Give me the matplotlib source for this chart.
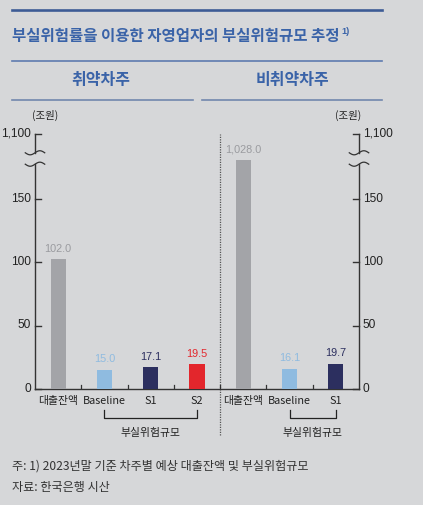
import numpy as np
import matplotlib.pyplot as plt
from matplotlib.transforms import blended_transform_factory

plt.rcParams['font.family'] = ['Noto Sans CJK KR', 'DejaVu Sans']

# data
categories = ['대출잔액', 'Baseline', 'S1', 'S2', '대출잔액', 'Baseline', 'S1']
values = [102.0, 15.0, 17.1, 19.5, 1028.0, 16.1, 19.7]
labels = ['102.0', '15.0', '17.1', '19.5', '1,028.0', '16.1', '19.7']
colors = ['#a3a4a8', '#8fbbe0', '#2c2f5f', '#e3262c', '#a3a4a8', '#8fbbe0', '#2c2f5f']
label_colors = ['#9a9b9f', '#8fbbe0', '#2c2f5f', '#e3262c', '#9a9b9f', '#8fbbe0', '#2c2f5f']
yticks = [0, 50, 100, 150]
top_tick_label = '1,100'

bg = '#d6d7d9'
num_font = ['Liberation Sans Narrow', 'Liberation Sans', 'DejaVu Sans']

# broken axis: values above cut are drawn at cut height
cut = 180
top_pos = 201
brk_lo, brk_hi = 177, 186

fig = plt.figure(figsize=(4.23, 5.05), dpi=100, facecolor=bg)
ax = fig.add_axes([35/423, 1-389/505, 324/423, 205*1.27/505])
ax.set_facecolor(bg)

x = np.arange(len(values))
heights = [min(v, cut) for v in values]
ax.bar(x, heights, width=0.33, color=colors, zorder=3)
for xi, h, lab, c in zip(x, heights, labels, label_colors):
    ax.annotate(lab, (xi, h), xytext=(0, 4), textcoords='offset points',
                ha='center', va='bottom', fontsize=7.8, color=c, family=num_font)

ax.set_xlim(-0.5, 6.5)
ax.set_ylim(0, 205)
for s in ['left', 'right', 'top']:
    ax.spines[s].set_visible(False)
ax.spines['bottom'].set_color('#333333')
ax.spines['bottom'].set_linewidth(1.0)

ax.set_xticks(x)
ax.set_xticklabels(categories, fontsize=7.8, color='#222222')
ax.tick_params(axis='x', length=0, pad=5)
for xm in [0.5, 1.5, 2.5, 4.5, 5.5]:
    ax.plot([xm, xm], [0, 3], color='#333333', lw=0.9, zorder=4)
ax.set_yticks([])

# y axes drawn by hand (both sides)
tr = blended_transform_factory(ax.transAxes, ax.transData)
for side, xa in [('left', 0.0), ('right', 1.0)]:
    ax.plot([xa, xa], [0, brk_lo], color='#333333', lw=1.0, transform=tr, clip_on=False)
    ax.plot([xa, xa], [brk_hi, top_pos], color='#333333', lw=1.0, transform=tr, clip_on=False)
    tdir = 1 if side == 'left' else -1
    for v in yticks + [top_pos]:
        ax.plot([xa, xa + tdir*0.018], [v, v], color='#333333', lw=1.0,
                transform=tr, clip_on=False)
        txt = top_tick_label if v == top_pos else str(v)
        if side == 'left':
            ax.text(xa - 0.012, v, txt, transform=tr, ha='right', va='center',
                    fontsize=8.6, color='#222222', family=num_font)
        else:
            ax.text(xa + 0.012, v, txt, transform=tr, ha='left', va='center',
                    fontsize=8.6, color='#222222', family=num_font)
    # break marks
    t = np.linspace(-1, 1, 40)
    for yb in [brk_lo, brk_hi]:
        ax.plot(xa + t*0.03, yb + 1.6*np.sin(t*np.pi), color='#333333', lw=0.9,
                transform=tr, clip_on=False)

# divider between groups
ax.plot([3.5, 3.5], [-36, top_pos], color='#555555', lw=0.9, ls=(0, (1, 1)),
        clip_on=False, zorder=2)
ax.plot([3.5, 3.5], [0, 3], color='#333333', lw=0.9, zorder=4)

# brackets under scenarios
def bracket(x0, x1):
    yb, yt = -22.5, -16.5
    ax.plot([x0, x0, x1, x1], [yt, yb, yb, yt], color='#222222', lw=0.9, clip_on=False)
    ax.text((x0 + x1) / 2, -31, '부실위험규모', ha='center', va='top',
            fontsize=7.8, color='#222222')

bracket(1, 3)
bracket(5, 6)

# header
fig.add_artist(plt.Line2D([12/423, 382/423], [1-10/505]*2, color='#3d5b95', lw=1.9))
fig.text(12/423, 1-36/505, '부실위험률을 이용한 자영업자의 부실위험규모 추정',
         fontsize=11.2, fontweight='bold', color='#3a63a8', va='center', ha='left')
fig.text(341/423, 1-31/505, '1)', fontsize=6.5, fontweight='bold', color='#3a63a8',
         va='center', ha='left', family=num_font)
fig.add_artist(plt.Line2D([12/423, 382/423], [1-61/505]*2, color='#5e7bb0', lw=1.2))
fig.text(101/423, 1-80/505, '취약차주', fontsize=11.5, fontweight='bold',
         color='#3a63a8', ha='center', va='center')
fig.text(292/423, 1-80/505, '비취약차주', fontsize=11.5, fontweight='bold',
         color='#3a63a8', ha='center', va='center')
fig.add_artist(plt.Line2D([12/423, 193/423], [1-100/505]*2, color='#7287ad', lw=1.2))
fig.add_artist(plt.Line2D([202/423, 382/423], [1-100/505]*2, color='#7287ad', lw=1.2))

fig.text(45/423, 1-115/505, '(조원)', fontsize=7.5, color='#222222', ha='center', va='center')
fig.text(348/423, 1-115/505, '(조원)', fontsize=7.5, color='#222222', ha='center', va='center')

# notes
fig.text(12/423, 1-466/505, '주: 1) 2023년말 기준 차주별 예상 대출잔액 및 부실위험규모',
         fontsize=8.7, color='#333333', ha='left', va='center')
fig.text(12/423, 1-487/505, '자료: 한국은행 시산',
         fontsize=8.7, color='#333333', ha='left', va='center')

fig.savefig('out.png', dpi=100, facecolor=bg)
